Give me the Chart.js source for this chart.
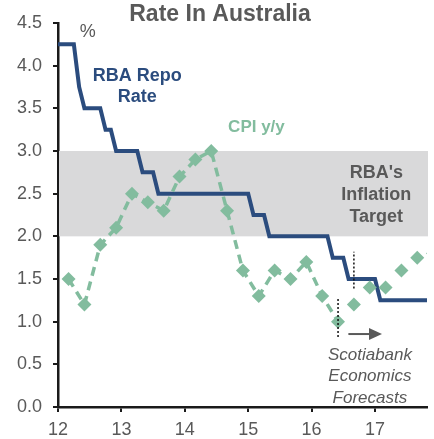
<!DOCTYPE html>
<html>
<head>
<meta charset="utf-8">
<script src="https://cdn.jsdelivr.net/npm/chart.js@4/dist/chart.umd.min.js"></script>
<style>
  html, body { margin: 0; padding: 0; background: #fff; }
  #wrap { width: 434px; height: 439px; }
</style>
</head>
<body>
<div id="wrap"><canvas id="c" width="434" height="439"></canvas></div>
<script>
// RBA cash rate, monthly, Jan 2012 .. Dec 2017 (forecast from late 2016)
var repoRate = [
  4.25, 4.25, 4.25, 4.25, 3.75, 3.5, 3.5, 3.5, 3.5, 3.25, 3.25, 3.0,
  3.0, 3.0, 3.0, 3.0, 2.75, 2.75, 2.75, 2.5, 2.5, 2.5, 2.5, 2.5,
  2.5, 2.5, 2.5, 2.5, 2.5, 2.5, 2.5, 2.5, 2.5, 2.5, 2.5, 2.5,
  2.5, 2.25, 2.25, 2.25, 2.0, 2.0, 2.0, 2.0, 2.0, 2.0, 2.0, 2.0,
  2.0, 2.0, 2.0, 2.0, 1.75, 1.75, 1.75, 1.5, 1.5, 1.5, 1.5, 1.5,
  1.5, 1.25, 1.25, 1.25, 1.25, 1.25, 1.25, 1.25, 1.25, 1.25, 1.25, 1.25
];
// CPI y/y, quarterly Q1 2012 .. Q2 2016
var cpiActual = [1.5, 1.2, 1.9, 2.1, 2.5, 2.4, 2.3, 2.7, 2.9, 3.0, 2.3, 1.6, 1.3, 1.6, 1.5, 1.7, 1.3, 1.0];
// Scotiabank forecasts Q3 2016 .. Q4 2017
var cpiForecast = [1.2, 1.4, 1.4, 1.6, 1.75, 1.8];
var yearTicks = [12, 13, 14, 15, 16, 17];
var targetBand = [2.0, 3.0];

var blue = '#2b4c7e';
var green = '#82bc9e';
var grey = '#595959';
var font = 'Liberation Sans, Arial, sans-serif';

function monthX(i) { return 12 + i / 12; }
function quarterX(q) { return 12 + (q * 3 + 2) / 12; }

var repoPoints = repoRate.map(function(v, i) { return { x: monthX(i), y: v }; });
var cpiPoints = cpiActual.map(function(v, i) { return { x: quarterX(i), y: v }; });
var fcPoints = cpiForecast.map(function(v, i) { return { x: quarterX(i + cpiActual.length), y: v }; });

var extras = {
  id: 'extras',
  beforeDatasetsDraw: function(chart) {
    var ctx = chart.ctx, a = chart.chartArea, ys = chart.scales.y, xs = chart.scales.x;
    ctx.save();
    ctx.fillStyle = '#d9d9da';
    var top = ys.getPixelForValue(targetBand[1]), bot = ys.getPixelForValue(targetBand[0]);
    ctx.fillRect(a.left + 1, top, a.right - a.left, bot - top);
    ctx.fillStyle = grey;
    ctx.font = 'bold 18px ' + font;
    ctx.textAlign = 'center';
    ctx.textBaseline = 'middle';
    var tx = xs.getPixelForValue(17.02);
    ctx.fillText("RBA's", tx, ys.getPixelForValue(2.74));
    ctx.fillText('Inflation', tx, ys.getPixelForValue(2.48));
    ctx.fillText('Target', tx, ys.getPixelForValue(2.23));
    ctx.restore();
  },
  afterDatasetsDraw: function(chart) {
    var ctx = chart.ctx, ys = chart.scales.y, xs = chart.scales.x;
    ctx.save();
    // forecast markers
    ctx.strokeStyle = '#111';
    ctx.lineWidth = 1.5;
    ctx.setLineDash([2, 2]);
    [[16.417, 0.82, 1.28], [16.667, 1.39, 1.82]].forEach(function(l) {
      ctx.beginPath();
      ctx.moveTo(xs.getPixelForValue(l[0]), ys.getPixelForValue(l[1]));
      ctx.lineTo(xs.getPixelForValue(l[0]), ys.getPixelForValue(l[2]));
      ctx.stroke();
    });
    ctx.setLineDash([]);
    // arrow
    var ay = ys.getPixelForValue(0.855);
    var ax0 = xs.getPixelForValue(16.58), ax1 = xs.getPixelForValue(17.11);
    ctx.strokeStyle = grey;
    ctx.fillStyle = grey;
    ctx.lineWidth = 2;
    ctx.beginPath();
    ctx.moveTo(ax0, ay);
    ctx.lineTo(ax1 - 8, ay);
    ctx.stroke();
    ctx.beginPath();
    ctx.moveTo(ax1, ay);
    ctx.lineTo(ax1 - 13, ay - 6);
    ctx.lineTo(ax1 - 13, ay + 6);
    ctx.closePath();
    ctx.fill();
    // text labels
    ctx.textAlign = 'center';
    ctx.textBaseline = 'middle';
    ctx.font = 'italic 17px ' + font;
    var sx = xs.getPixelForValue(16.92);
    ctx.fillText('Scotiabank', sx, ys.getPixelForValue(0.61));
    ctx.fillText('Economics', sx, ys.getPixelForValue(0.355));
    ctx.fillText('Forecasts', sx, ys.getPixelForValue(0.105));
    ctx.font = 'bold 18px ' + font;
    ctx.fillStyle = blue;
    var rx = xs.getPixelForValue(13.25);
    ctx.fillText('RBA Repo', rx, ys.getPixelForValue(3.88));
    ctx.fillText('Rate', rx, ys.getPixelForValue(3.63));
    ctx.font = 'bold 17px ' + font;
    ctx.fillStyle = green;
    ctx.fillText('CPI y/y', xs.getPixelForValue(15.13), ys.getPixelForValue(3.28));
    ctx.font = '18px ' + font;
    ctx.fillStyle = grey;
    ctx.fillText('%', xs.getPixelForValue(12.47), ys.getPixelForValue(4.39));
    // title
    ctx.font = 'bold 23px ' + font;
    ctx.fillText('Rate In Australia', chart.width / 2 + 3, 15);
    ctx.restore();
  }
};

new Chart(document.getElementById('c').getContext('2d'), {
  type: 'line',
  data: {
    datasets: [
      {
        label: 'RBA Repo Rate',
        data: repoPoints,
        borderColor: blue,
        borderWidth: 4,
        pointRadius: 0,
        tension: 0,
        order: 3
      },
      {
        label: 'CPI y/y',
        data: cpiPoints,
        borderColor: green,
        borderWidth: 3.5,
        borderDash: [9, 6],
        pointStyle: 'rectRot',
        pointRadius: 7,
        pointBorderWidth: 0,
        pointBackgroundColor: green,
        order: 1
      },
      {
        label: 'CPI forecast',
        data: fcPoints,
        showLine: false,
        pointStyle: 'rectRot',
        pointRadius: 7,
        pointBorderWidth: 0,
        pointBackgroundColor: green,
        order: 2
      }
    ]
  },
  options: {
    responsive: false,
    animation: false,
    layout: { padding: { top: 23, left: 0, right: 0, bottom: 0 } },
    plugins: { legend: { display: false }, tooltip: { enabled: false } },
    scales: {
      x: {
        type: 'linear',
        min: 12,
        max: 17.82,
        afterBuildTicks: function(s) {
          s.ticks = yearTicks.map(function(v) { return { value: v }; });
        },
        afterFit: function(s) { s.height = 32; },
        border: { color: '#1a1a1a', width: 2.5 },
        grid: { drawOnChartArea: false, drawTicks: true, tickLength: 5, color: '#1a1a1a', lineWidth: 2 },
        ticks: { color: grey, font: { size: 18, family: font }, padding: 7, maxRotation: 0 }
      },
      y: {
        min: 0,
        max: 4.5,
        afterFit: function(s) { s.width = 58; },
        border: { color: '#1a1a1a', width: 2.5 },
        grid: { drawOnChartArea: false, drawTicks: true, tickLength: 5, color: '#1a1a1a', lineWidth: 2 },
        ticks: {
          stepSize: 0.5,
          color: grey,
          font: { size: 18, family: font },
          padding: 11,
          callback: function(v) { return v.toFixed(1); }
        }
      }
    }
  },
  plugins: [extras]
});
</script>
</body>
</html>
